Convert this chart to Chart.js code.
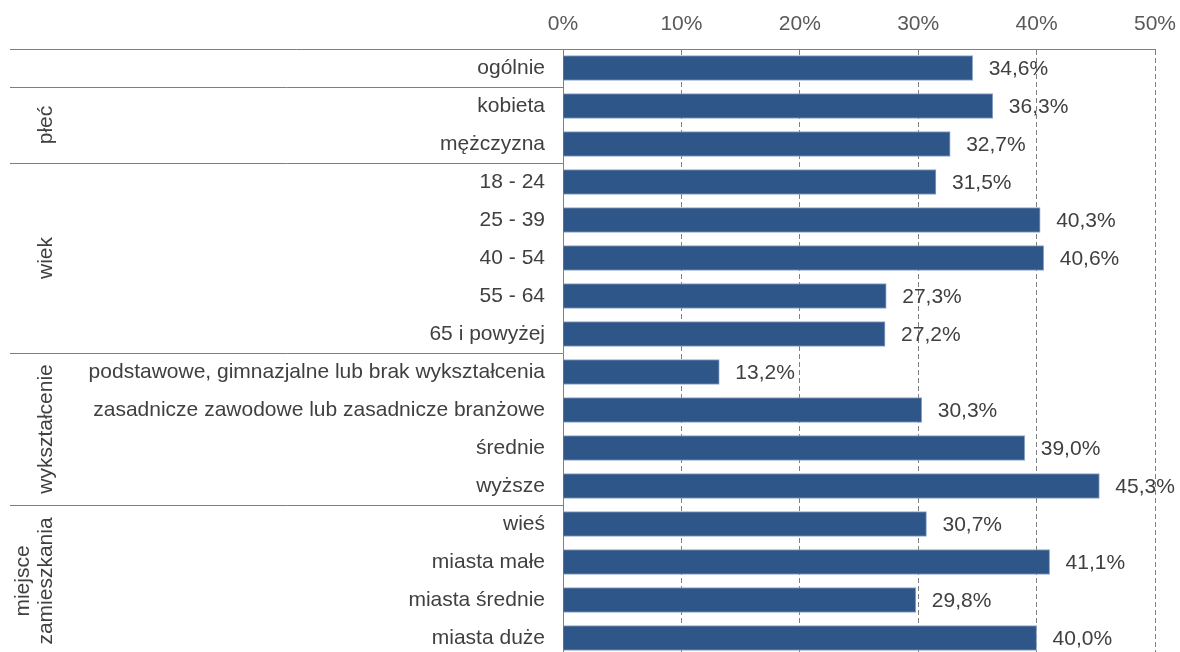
<!DOCTYPE html>
<html>
<head>
<meta charset="utf-8">
<script src="https://cdn.jsdelivr.net/npm/chart.js@4"></script>
<style>
  html, body { margin: 0; padding: 0; background: #fff; overflow: hidden; }
  #wrap { width: 1180px; height: 660px; }
</style>
</head>
<body>
<div id="wrap"><canvas id="chart" width="1180" height="660"></canvas></div>
<script>
// categories (top to bottom)
const categories = [
  'ogólnie',
  'kobieta', 'mężczyzna',
  '18 - 24', '25 - 39', '40 - 54', '55 - 64', '65 i powyżej',
  'podstawowe, gimnazjalne lub brak wykształcenia',
  'zasadnicze zawodowe lub zasadnicze branżowe',
  'średnie', 'wyższe',
  'wieś', 'miasta małe', 'miasta średnie', 'miasta duże'
];
const values = [34.6, 36.3, 32.7, 31.5, 40.3, 40.6, 27.3, 27.2, 13.2, 30.3, 39.0, 45.3, 30.7, 41.1, 29.8, 40.0];

// groups: label lines, first and last category index
const groupNames = [[], ['płeć'], ['wiek'], ['wykształcenie'], ['miejsce', 'zamieszkania']];
const groupStart = [0, 1, 3, 8, 12];
const groupEnd = [0, 2, 7, 11, 15];

const tickValues = [0, 10, 20, 30, 40, 50];

const FONT = '"Liberation Sans", Arial, sans-serif';
const TEXT = '#404040';
const LINE = '#7f7f7f';

function fmt(v) {
  return v.toFixed(1).replace('.', ',') + '%';
}

// separators, top line and group labels on the left
const groupPlugin = {
  id: 'groups',
  afterDraw(chart) {
    const ctx = chart.ctx;
    const y = chart.scales.y;
    const area = chart.chartArea;
    const half = (y.getPixelForValue(1) - y.getPixelForValue(0)) / 2;
    ctx.save();
    ctx.strokeStyle = LINE;
    ctx.lineWidth = 1;
    // top line over the whole width
    ctx.beginPath();
    ctx.moveTo(10, Math.round(area.top) + 0.5);
    ctx.lineTo(area.right, Math.round(area.top) + 0.5);
    ctx.stroke();
    for (let g = 1; g < groupStart.length; g++) {
      const yy = Math.round(y.getPixelForValue(groupStart[g]) - half) + 0.5;
      ctx.beginPath();
      ctx.moveTo(10, yy);
      ctx.lineTo(area.left, yy);
      ctx.stroke();
    }
    ctx.fillStyle = TEXT;
    ctx.font = '21px ' + FONT;
    ctx.textAlign = 'center';
    ctx.textBaseline = 'middle';
    for (let g = 0; g < groupNames.length; g++) {
      const lines = groupNames[g];
      if (!lines.length) continue;
      const cy = (y.getPixelForValue(groupStart[g]) + y.getPixelForValue(groupEnd[g])) / 2;
      const x0 = 46 - (lines.length - 1) * 23;
      lines.forEach((t, i) => {
        ctx.save();
        ctx.translate(x0 + i * 23, cy);
        ctx.rotate(-Math.PI / 2);
        ctx.fillText(t, 0, 0);
        ctx.restore();
      });
    }
    ctx.restore();
  }
};

// value labels right of each bar
const valuePlugin = {
  id: 'values',
  afterDatasetsDraw(chart) {
    const ctx = chart.ctx;
    const meta = chart.getDatasetMeta(0);
    ctx.save();
    ctx.fillStyle = TEXT;
    ctx.font = '21px ' + FONT;
    ctx.textAlign = 'left';
    ctx.textBaseline = 'middle';
    meta.data.forEach((bar, i) => {
      ctx.fillText(fmt(values[i]), bar.x + 16, bar.y + 1);
    });
    ctx.restore();
  }
};

new Chart(document.getElementById('chart'), {
  type: 'bar',
  data: {
    labels: categories,
    datasets: [{
      data: values,
      backgroundColor: '#2F5689',
      borderColor: '#8EA6C8',
      borderWidth: 1,
      barThickness: 25
    }]
  },
  options: {
    indexAxis: 'y',
    responsive: false,
    animation: false,
    layout: { padding: { left: 0, right: 25, top: 0, bottom: 3 } },
    plugins: { legend: { display: false }, tooltip: { enabled: false } },
    scales: {
      x: {
        position: 'top',
        min: 0,
        max: 50,
        afterFit(s) {
          s.height = 49;
          s.paddingLeft = 0;
          s.paddingRight = 0;
        },
        afterBuildTicks(s) { s.ticks = tickValues.map(v => ({ value: v })); },
        ticks: {
          callback: v => v + '%',
          color: '#595959',
          font: { family: FONT, size: 21 },
          padding: 12
        },
        grid: {
          drawTicks: false,
          color: ctx => ctx.tick && ctx.tick.value === 0 ? 'rgba(0,0,0,0)' : '#7f7f7f',
          lineWidth: 1
        },
        border: { display: true, color: LINE, dash: [5, 3] }
      },
      y: {
        afterFit(s) {
          s.width = 563;
          s.paddingTop = 0;
          s.paddingBottom = 0;
        },
        ticks: {
          color: TEXT,
          font: { family: FONT, size: 21 },
          padding: 18
        },
        grid: { display: false, drawTicks: false },
        border: { display: true, color: LINE }
      }
    }
  },
  plugins: [groupPlugin, valuePlugin]
});
</script>
</body>
</html>
